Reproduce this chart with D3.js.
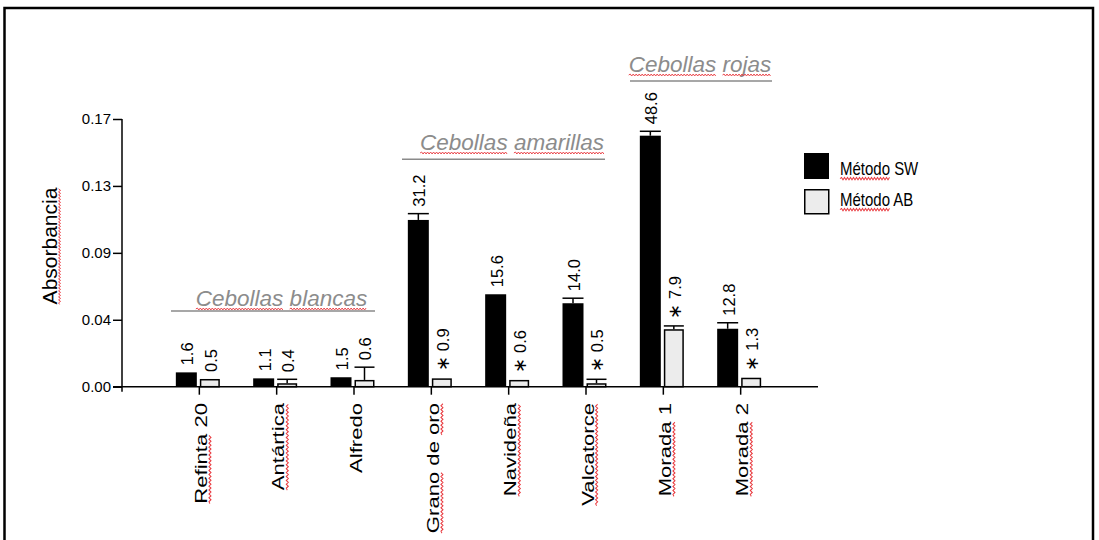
<!DOCTYPE html>
<html>
<head>
<meta charset="utf-8">
<script src="https://cdn.jsdelivr.net/npm/d3@7"></script>
<style>
  html, body { margin: 0; padding: 0; background: #fff; }
  svg { display: block; }
  text { font-family: "Liberation Sans", Arial, sans-serif; }
</style>
</head>
<body>
<svg id="chart" width="1099" height="540"></svg>
<script>
// Onion varieties and absorbance per extraction method
const categories = ["Refinta 20", "Antártica", "Alfredo", "Grano de oro", "Navideña", "Valcatorce", "Morada 1", "Morada 2"];
const swValues = [0.0091, 0.0053, 0.0060, 0.1059, 0.0587, 0.0530, 0.1594, 0.0368];
const swErrors = [0, 0, 0, 0.0040, 0, 0.0032, 0.0028, 0.0038];
const abValues = [0.0049, 0.0022, 0.0043, 0.0053, 0.0043, 0.0022, 0.0365, 0.0057];
const abErrors = [0, 0.0025, 0.0081, 0, 0, 0.0025, 0.0021, 0];
const swLabels = ["1.6", "1.1", "1.5", "31.2", "15.6", "14.0", "48.6", "12.8"];
const abLabels = ["0.5", "0.4", "0.6", "0.9", "0.6", "0.5", "7.9", "1.3"];
const abSignificant = [false, false, false, true, true, true, true, true];
const yTicks = [0, 0.0425, 0.085, 0.1275, 0.17];
const seriesNames = ["Método SW", "Método AB"];
const groupNames = ["Cebollas blancas", "Cebollas amarillas", "Cebollas rojas"];
const yTitle = "Absorbancia";

const svg = d3.select("#chart");

// outer frame
svg.append("rect")
  .attr("x", 4.5).attr("y", 8).attr("width", 1088.5).attr("height", 600)
  .attr("fill", "none").attr("stroke", "#000").attr("stroke-width", 2.5);

const x = d3.scaleLinear().domain([0, categories.length + 1]).range([121.5, 817.5]);
const y = d3.scaleLinear().domain([0, 0.17]).range([386.7, 119]);
const cx = i => x(i + 1);

// red wavy underline beneath chosen words of a text node
function squiggle(parent, textNode, words) {
  const s = textNode.textContent;
  words.forEach(w => {
    const i = s.indexOf(w);
    if (i < 0) return;
    const p0 = textNode.getStartPositionOfChar(i);
    const p1 = textNode.getEndPositionOfChar(i + w.length - 1);
    const yb = p0.y + 3;
    let d = `M${p0.x},${yb}`;
    let k = 0;
    for (let xx = p0.x + 1.5; xx <= p1.x + 0.1; xx += 1.5) {
      d += `L${xx},${yb + (k % 2 === 0 ? -1 : 1)}`;
      k++;
    }
    parent.append("path").attr("d", d)
      .attr("fill", "none").attr("stroke", "#e8383d").attr("stroke-width", 0.9);
  });
}

// y axis
const yAxis = svg.append("g").attr("transform", "translate(122,0)")
  .call(d3.axisLeft(y).tickValues(yTicks).tickFormat(d3.format(".2f")).tickSize(9).tickPadding(2).tickSizeOuter(0));
yAxis.select(".domain").remove();
yAxis.append("line").attr("x1", 0).attr("x2", 0).attr("y1", y(0.17)).attr("y2", y(0) + 5)
  .attr("stroke", "#000").attr("stroke-width", 1.5);
yAxis.selectAll(".tick line").attr("stroke-width", 1.5);
yAxis.selectAll(".tick text").attr("font-size", 15).attr("fill", "#000")
  .attr("font-family", "'Liberation Sans', Arial, sans-serif");

// x axis
const xAxis = svg.append("g").attr("transform", `translate(0,${y(0)})`)
  .call(d3.axisBottom(x).tickValues(d3.range(1, categories.length + 1)).tickFormat("").tickSize(8).tickSizeOuter(0));
xAxis.select(".domain").remove();
xAxis.append("line").attr("x1", 113).attr("x2", 818).attr("y1", 0).attr("y2", 0)
  .attr("stroke", "#000").attr("stroke-width", 1.5);
xAxis.selectAll(".tick line").attr("stroke-width", 1.5);

// category labels (rotated)
categories.forEach((c, i) => {
  const g = svg.append("g").attr("transform", `translate(${cx(i) + 2},403) rotate(-90) scale(1.3,1)`);
  const t = g.append("text").attr("text-anchor", "end").attr("y", 17 * 0.36)
    .attr("font-size", 17).attr("fill", "#000").text(c);
  const flagged = c.split(" ").filter(w => !/^\d+$/.test(w) && w !== "de" && w !== "Alfredo");
  squiggle(g, t.node(), flagged);
});

// y title
{
  const g = svg.append("g").attr("transform", "translate(49,246) rotate(-90)");
  const t = g.append("text").attr("text-anchor", "middle").attr("y", 21 * 0.36)
    .attr("font-size", 21).attr("fill", "#000").text(yTitle);
  squiggle(g, t.node(), [yTitle]);
}

// bars
const swW = 21, abW = 20;
const swX = i => cx(i) - 23;
const abX = i => cx(i) + 1;

svg.append("g").selectAll("rect").data(swValues).join("rect")
  .attr("x", (d, i) => swX(i)).attr("width", swW)
  .attr("y", d => y(d)).attr("height", d => y(0) - y(d))
  .attr("fill", "#000");

svg.append("g").selectAll("rect").data(abValues).join("rect")
  .attr("x", (d, i) => abX(i) + 0.75).attr("width", abW - 1.5)
  .attr("y", d => y(d) + 0.75).attr("height", d => Math.max(0, y(0) - y(d) - 0.75))
  .attr("fill", "#ececec").attr("stroke", "#000").attr("stroke-width", 1.5);

// error bars (upper half)
function errorBars(values, errors, left, width) {
  const g = svg.append("g").attr("stroke", "#000").attr("stroke-width", 1.5);
  values.forEach((v, i) => {
    if (!errors[i]) return;
    const mid = left(i) + width / 2;
    g.append("line").attr("x1", mid).attr("x2", mid).attr("y1", y(v)).attr("y2", y(v + errors[i]));
    g.append("line").attr("x1", left(i)).attr("x2", left(i) + width)
      .attr("y1", y(v + errors[i])).attr("y2", y(v + errors[i]));
  });
}
errorBars(swValues, swErrors, swX, swW);
errorBars(abValues, abErrors, abX, abW);

// value labels above bars (rotated)
function valueLabels(values, errors, labels, left, width, stars) {
  values.forEach((v, i) => {
    const top = y(v + errors[i]) - 7;
    const g = svg.append("g").attr("transform", `translate(${left(i) + width / 2 + 1},${top}) rotate(-90)`);
    const t = g.append("text").attr("font-size", 16.5).attr("y", 16.5 * 0.36).attr("fill", "#000");
    if (stars && stars[i]) t.append("tspan").attr("font-size", 18).text("\u2217 ");
    t.append("tspan").text(labels[i]);
  });
}
valueLabels(swValues, swErrors, swLabels, swX, swW, null);
valueLabels(abValues, abErrors, abLabels, abX, abW, abSignificant);

// group headings
const headings = [
  { tx: 281.5, ty: 306, x1: 171, x2: 375, ly: 311 },
  { tx: 512, ty: 150, x1: 402, x2: 605, ly: 159.3 },
  { tx: 700, ty: 72, x1: 630, x2: 772, ly: 81 }
];
groupNames.forEach((name, k) => {
  const h = headings[k];
  const g = svg.append("g");
  g.append("line").attr("x1", h.x1).attr("x2", h.x2).attr("y1", h.ly).attr("y2", h.ly)
    .attr("stroke", "#8a8a8a").attr("stroke-width", 1.5);
  const t = g.append("text").attr("x", h.tx).attr("y", h.ty).attr("text-anchor", "middle")
    .attr("font-family", "Lato, 'Open Sans', sans-serif").attr("font-style", "italic")
    .attr("font-size", 22.5).attr("fill", "#8c8c8c").text(name);
  squiggle(g, t.node(), name.split(" "));
});

// legend
const legend = svg.append("g");
legend.append("rect").attr("x", 804).attr("y", 153).attr("width", 25).attr("height", 26).attr("fill", "#000");
legend.append("rect").attr("x", 804.75).attr("y", 189.75).attr("width", 24).attr("height", 24)
  .attr("fill", "#ececec").attr("stroke", "#000").attr("stroke-width", 1.5);
[175, 206].forEach((by, k) => {
  const g = legend.append("g").attr("transform", `translate(840,${by}) scale(1,1.2)`);
  const t = g.append("text").attr("font-size", 15).attr("fill", "#000").text(seriesNames[k]);
  squiggle(g, t.node(), ["Método"]);
});
</script>
</body>
</html>
